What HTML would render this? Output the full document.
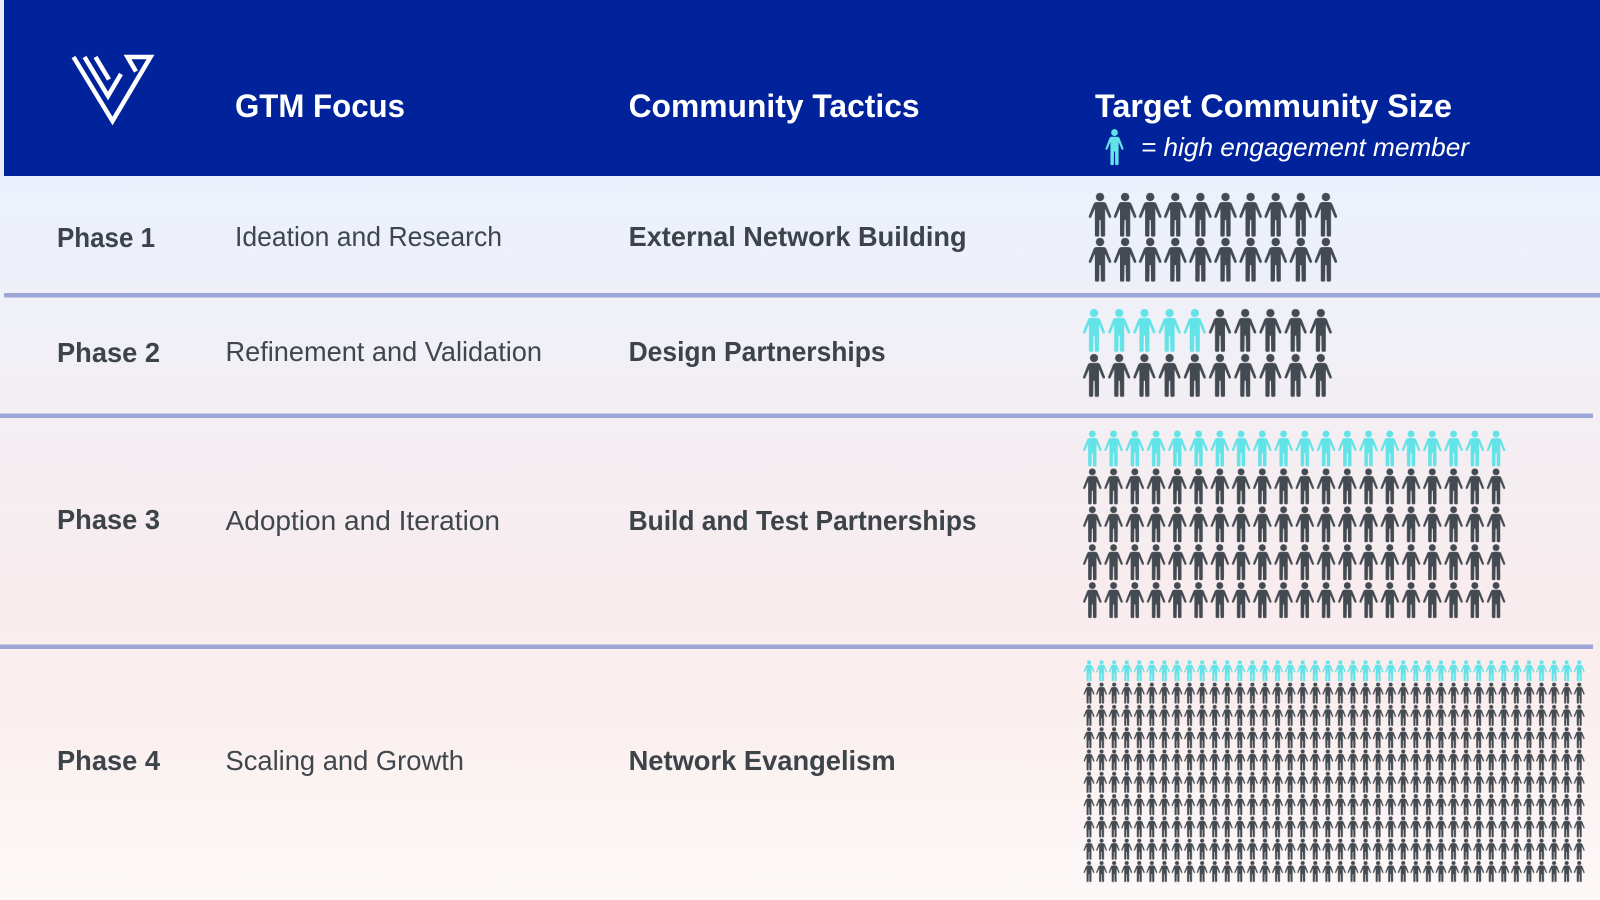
<!DOCTYPE html>
<html>
<head>
<meta charset="utf-8">
<style>
  html, body { margin: 0; padding: 0; width: 1600px; height: 900px; overflow: hidden; background: #eef1f9; }
  svg { display: block; }
  .hd { font-family: "Liberation Sans", sans-serif; font-weight: bold; font-size: 32px; fill: #ffffff; }
  .lg { font-family: "Liberation Sans", sans-serif; font-style: italic; font-size: 26px; fill: #ffffff; }
  .ph { font-family: "Liberation Sans", sans-serif; font-weight: bold; font-size: 28px; fill: #3c4349; }
  .gt { font-family: "Liberation Sans", sans-serif; font-size: 28px; fill: #3f474d; }
  .tc { font-family: "Liberation Sans", sans-serif; font-weight: bold; font-size: 28px; fill: #3c4349; }
</style>
</head>
<body>
<svg width="1600" height="900" viewBox="0 0 1600 900" xmlns="http://www.w3.org/2000/svg" xmlns:xlink="http://www.w3.org/1999/xlink">
  <defs>
    <linearGradient id="bg" gradientUnits="userSpaceOnUse" x1="0" y1="176" x2="0" y2="900">
      <stop offset="0" stop-color="#ebf1fc"/>
      <stop offset="0.17" stop-color="#eff0f8"/>
      <stop offset="0.33" stop-color="#f3eff3"/>
      <stop offset="0.58" stop-color="#f8ecee"/>
      <stop offset="0.72" stop-color="#faeeee"/>
      <stop offset="1" stop-color="#fdf8f8"/>
    </linearGradient>
    <g id="person">
      <circle cx="12.5" cy="4.4" r="4.2"/>
      <path d="M9,9.5 L16,9.5 Q18,9.5 18.9,11.4 L23.6,23.3 Q24.1,24.9 22.8,25.3 Q21.7,25.6 21.2,24.5 L17.6,16 L17.6,42.6 Q17.6,44 16.2,44 L14.6,44 Q13.3,44 13.3,42.6 L13.1,27.5 L11.9,27.5 L11.7,42.6 Q11.7,44 10.4,44 L8.8,44 Q7.4,44 7.4,42.6 L7.4,16 L3.8,24.5 Q3.3,25.6 2.2,25.3 Q0.9,24.9 1.4,23.3 L6.1,11.4 Q7,9.5 9,9.5 Z"/>
    </g>
    <!-- Phase 1 -->
    <pattern id="p1d" patternUnits="userSpaceOnUse" x="1087.5" y="192.6" width="25.1" height="45">
      <use xlink:href="#person" href="#person" fill="#434a51"/>
    </pattern>
    <!-- Phase 2 -->
    <pattern id="p2d" patternUnits="userSpaceOnUse" x="1081.75" y="308.7" width="25.2" height="45">
      <use xlink:href="#person" href="#person" fill="#434a51" transform="scale(0.98)"/>
    </pattern>
    <pattern id="p2c" patternUnits="userSpaceOnUse" x="1081.75" y="308.7" width="25.2" height="45">
      <use xlink:href="#person" href="#person" fill="#62e3e8" transform="scale(0.98)"/>
    </pattern>
    <!-- Phase 3 -->
    <pattern id="p3d" patternUnits="userSpaceOnUse" x="1082.1" y="430.4" width="21.25" height="37.9">
      <use xlink:href="#person" href="#person" fill="#434a51" transform="scale(0.818)"/>
    </pattern>
    <pattern id="p3c" patternUnits="userSpaceOnUse" x="1082.1" y="430.4" width="21.25" height="37.9">
      <use xlink:href="#person" href="#person" fill="#62e3e8" transform="scale(0.818)"/>
    </pattern>
    <!-- Phase 4 -->
    <pattern id="p4d" patternUnits="userSpaceOnUse" x="1083" y="660.2" width="12.57" height="22.3">
      <use xlink:href="#person" href="#person" fill="#434a51" transform="scale(0.48)"/>
    </pattern>
    <pattern id="p4c" patternUnits="userSpaceOnUse" x="1083" y="660.2" width="12.57" height="22.3">
      <use xlink:href="#person" href="#person" fill="#62e3e8" transform="scale(0.48)"/>
    </pattern>
  </defs>

  <!-- background -->
  <rect x="0" y="0" width="1600" height="900" fill="url(#bg)"/>
  <rect x="0" y="0" width="4" height="176" fill="#e9edf6"/>

  <!-- header -->
  <rect x="4" y="0" width="1596" height="176" fill="#00239b"/>

  <!-- logo -->
  <g fill="none" stroke="#ffffff" stroke-width="4.5" stroke-linejoin="miter" stroke-miterlimit="10">
    <path d="M73.5,57 L112.5,121 L150.5,57 L127.5,57 L136,71.5"/>
    <path d="M84.5,57 L108,96 L121,74"/>
    <path d="M95.5,57 L109,79.5"/>
  </g>

  <!-- header text -->
  <text class="hd" x="235" y="117" textLength="170" lengthAdjust="spacingAndGlyphs">GTM Focus</text>
  <text class="hd" x="628.6" y="117" textLength="291" lengthAdjust="spacingAndGlyphs">Community Tactics</text>
  <text class="hd" x="1095" y="117" textLength="357" lengthAdjust="spacingAndGlyphs">Target Community Size</text>
  <use xlink:href="#person" href="#person" fill="#62e3e8" transform="translate(1104.5,129) scale(0.8,0.82)"/>
  <text class="lg" x="1141" y="156" textLength="328" lengthAdjust="spacingAndGlyphs">= high engagement member</text>

  <!-- separator lines -->
  <rect x="4" y="293" width="1596" height="4.5" fill="#9ca7d8"/>
  <rect x="0" y="413.5" width="1593" height="4.5" fill="#9ca7d8"/>
  <rect x="0" y="644.5" width="1593" height="4.5" fill="#9ca7d8"/>

  <!-- Row 1 -->
  <text class="ph" x="57" y="247" textLength="98" lengthAdjust="spacingAndGlyphs">Phase 1</text>
  <text class="gt" x="235" y="246" textLength="267" lengthAdjust="spacingAndGlyphs">Ideation and Research</text>
  <text class="tc" x="628.6" y="246" textLength="338" lengthAdjust="spacingAndGlyphs">External Network Building</text>
  <rect x="1087.5" y="192.6" width="251" height="90" fill="url(#p1d)"/>

  <!-- Row 2 -->
  <text class="ph" x="57" y="362" textLength="103" lengthAdjust="spacingAndGlyphs">Phase 2</text>
  <text class="gt" x="225.5" y="361" textLength="316.5" lengthAdjust="spacingAndGlyphs">Refinement and Validation</text>
  <text class="tc" x="628.6" y="361" textLength="257" lengthAdjust="spacingAndGlyphs">Design Partnerships</text>
  <rect x="1081.75" y="308.7" width="126" height="45" fill="url(#p2c)"/>
  <rect x="1207.75" y="308.7" width="126" height="45" fill="url(#p2d)"/>
  <rect x="1081.75" y="353.7" width="252" height="45" fill="url(#p2d)"/>

  <!-- Row 3 -->
  <text class="ph" x="57" y="529" textLength="103" lengthAdjust="spacingAndGlyphs">Phase 3</text>
  <text class="gt" x="225.5" y="530" textLength="274.5" lengthAdjust="spacingAndGlyphs">Adoption and Iteration</text>
  <text class="tc" x="628.6" y="530" textLength="348" lengthAdjust="spacingAndGlyphs">Build and Test Partnerships</text>
  <rect x="1082.1" y="430.4" width="425" height="37.9" fill="url(#p3c)"/>
  <rect x="1082.1" y="468.3" width="425" height="151.6" fill="url(#p3d)"/>

  <!-- Row 4 -->
  <text class="ph" x="57" y="770" textLength="103" lengthAdjust="spacingAndGlyphs">Phase 4</text>
  <text class="gt" x="225.5" y="770" textLength="238.5" lengthAdjust="spacingAndGlyphs">Scaling and Growth</text>
  <text class="tc" x="628.6" y="770" textLength="267" lengthAdjust="spacingAndGlyphs">Network Evangelism</text>
  <rect x="1083" y="660.2" width="502.8" height="22.3" fill="url(#p4c)"/>
  <rect x="1083" y="682.5" width="502.8" height="200.7" fill="url(#p4d)"/>
</svg>
</body>
</html>
